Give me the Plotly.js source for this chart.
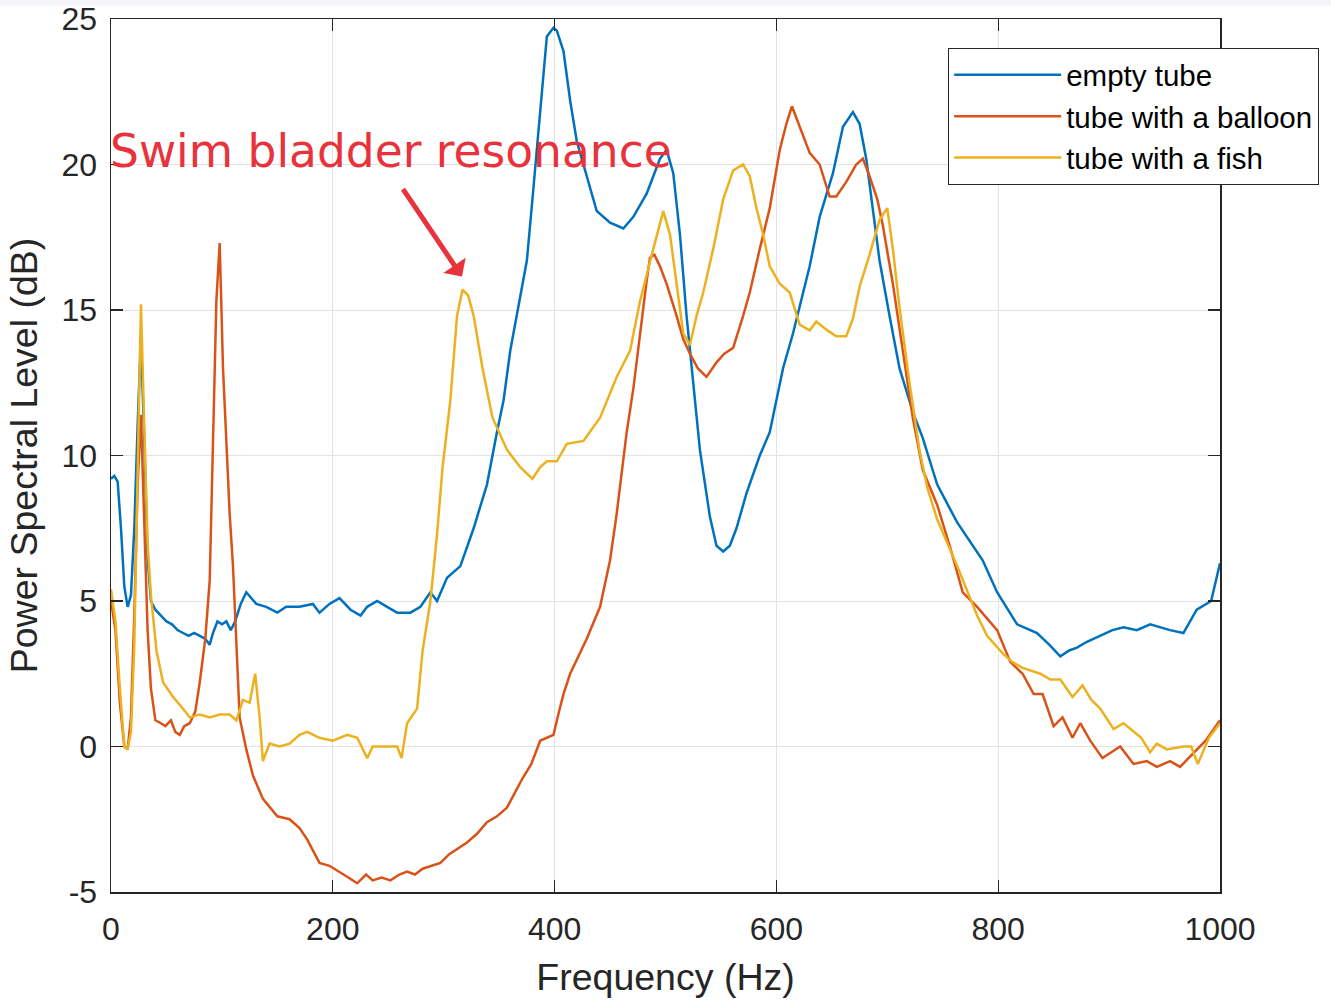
<!DOCTYPE html>
<html>
<head>
<meta charset="utf-8">
<script src="https://cdn.plot.ly/plotly-3.0.1.min.js"></script>
<style>
  html, body { margin: 0; padding: 0; background: #ffffff; }
  #chart { width: 1331px; height: 1001px; }
</style>
</head>
<body>
<div id="chart"></div>
<script>
// ---------- data ----------
const seriesNames = ["empty tube", "tube with a balloon", "tube with a fish"];

const emptyFreq = [0,3,6,9,12,15,18,21,24,27,30,33,36,40,45,50,55,60,65,70,75,80,85,89,92,96,100,104,108,112,117,122,131,140,150,158,170,182,188,197,206,216,225,231,240,249,258,270,279,288,294,303,315,327,339,348,354,360,375,380,384,390,393,399,402,408,414,420,429,438,450,462,471,483,495,501,507,513,519,525,531,540,546,552,558,564,573,585,594,606,615,630,639,651,660,669,675,681,687,693,702,711,723,732,745,763,786,799,817,835,846,856,864,871,880,892,903,913,925,937,946,955,967,979,992,1000];
const emptyLevel = [9.2,9.3,9.1,7.5,5.5,4.8,5.2,7.5,11.0,14.1,10.5,6.5,5.0,4.7,4.5,4.3,4.2,4.0,3.9,3.8,3.9,3.8,3.7,3.5,3.9,4.3,4.2,4.3,4.0,4.3,4.9,5.3,4.9,4.8,4.6,4.8,4.8,4.9,4.6,4.9,5.1,4.7,4.5,4.8,5.0,4.8,4.6,4.6,4.8,5.3,5.0,5.8,6.2,7.5,9.0,10.8,11.9,13.6,16.7,18.8,20.5,23.0,24.4,24.7,24.6,23.9,22.2,20.8,19.6,18.4,18.0,17.8,18.2,19.0,20.2,20.5,19.7,17.6,14.8,12.5,10.2,7.9,6.9,6.7,6.9,7.5,8.7,10.0,10.8,13.0,14.2,16.5,18.2,19.7,21.3,21.8,21.4,20.2,18.5,16.7,14.8,13.0,11.5,10.6,9.0,7.7,6.4,5.3,4.2,3.9,3.5,3.1,3.3,3.4,3.6,3.8,4.0,4.1,4.0,4.2,4.1,4.0,3.9,4.7,5.0,6.3];

const balloonFreq = [0,4,8,12,15,18,21,24,27,30,33,36,40,45,49,54,58,62,66,71,76,80,85,89,92,95,98,101,104,107,110,113,116,122,128,137,150,161,170,177,188,197,206,214,222,230,236,244,252,260,267,274,281,290,297,305,313,321,330,339,348,357,364,371,379,387,393,399,404,408,414,420,429,441,450,456,465,471,477,483,486,490,495,501,510,516,522,529,537,546,553,561,570,576,585,594,603,609,614,621,630,639,648,654,663,672,678,684,691,696,705,714,723,732,745,757,768,781,790,799,811,822,832,840,850,858,867,874,883,894,902,910,922,934,943,955,964,974,987,1000];
const balloonLevel = [5.0,4.0,1.5,0.0,-0.1,1.0,4.5,9.0,11.4,8.0,4.0,2.0,0.9,0.8,0.7,0.9,0.5,0.4,0.7,0.8,1.2,2.2,3.7,5.7,10.8,15.3,17.3,13.0,10.5,8.0,6.2,3.3,1.0,-0.1,-1.0,-1.8,-2.4,-2.5,-2.8,-3.2,-4.0,-4.1,-4.3,-4.5,-4.7,-4.4,-4.6,-4.5,-4.6,-4.4,-4.3,-4.4,-4.2,-4.1,-4.0,-3.7,-3.5,-3.3,-3.0,-2.6,-2.4,-2.1,-1.6,-1.1,-0.6,0.2,0.3,0.4,1.2,1.8,2.5,3.0,3.7,4.8,6.4,8.0,10.8,12.3,14.2,16.0,16.8,16.9,16.5,15.9,14.8,14.0,13.5,13.0,12.7,13.2,13.5,13.7,14.8,15.6,17.1,18.5,20.5,21.4,22.0,21.3,20.4,20.0,18.9,18.9,19.4,20.0,20.2,19.6,18.8,17.9,15.9,13.6,11.3,9.5,8.3,6.8,5.3,4.8,4.4,4.0,2.9,2.5,1.8,1.8,0.7,1.0,0.3,0.8,0.2,-0.4,-0.2,0.0,-0.6,-0.5,-0.7,-0.5,-0.7,-0.3,0.2,0.9];

const fishFreq = [0,4,8,12,15,18,21,24,27,30,33,36,41,47,56,65,71,80,89,98,107,113,119,125,130,134,137,143,152,161,170,177,188,200,213,222,231,236,249,258,262,267,276,281,288,294,299,306,312,317,322,327,335,344,357,369,380,387,393,402,411,426,441,456,468,477,489,498,504,510,516,522,528,534,543,552,561,570,576,582,588,594,603,612,621,630,636,646,654,663,669,675,684,693,700,705,711,720,729,736,745,763,781,790,804,813,822,838,847,856,867,876,884,892,904,913,922,929,937,943,952,967,974,980,990,1000];
const fishLevel = [5.4,4.3,2.0,0.0,-0.1,0.5,3.5,10.0,15.2,11.0,7.0,5.2,3.3,2.2,1.7,1.3,1.0,1.1,1.0,1.1,1.1,0.9,1.6,1.5,2.5,1.0,-0.5,0.1,0.0,0.1,0.4,0.5,0.3,0.2,0.4,0.3,-0.4,0.0,0.0,0.0,-0.4,0.8,1.3,3.3,5.0,7.3,9.6,11.9,14.8,15.7,15.5,14.8,13.0,11.3,10.2,9.6,9.2,9.6,9.8,9.8,10.4,10.5,11.3,12.7,13.6,15.3,17.1,18.4,17.6,15.9,14.2,13.8,14.8,15.6,17.1,18.8,19.8,20.0,19.6,18.5,17.6,16.5,15.9,15.6,14.5,14.3,14.6,14.3,14.1,14.1,14.7,15.8,16.9,18.1,18.5,17.1,15.1,12.5,10.2,8.9,7.8,6.2,4.5,3.8,3.2,2.9,2.7,2.5,2.3,2.3,1.7,2.1,1.6,1.3,0.6,0.8,0.5,0.3,-0.2,0.1,-0.1,0.0,0.0,-0.6,0.3,0.8];

const xTickVals = [0, 200, 400, 600, 800, 1000];
const yTickVals = [-5, 0, 5, 10, 15, 20, 25];
const annotationText = "Swim bladder resonance";
const xTitle = "Frequency (Hz)";
const yTitle = "Power Spectral Level (dB)";

// ---------- styling ----------
const colors = ["#0072BD", "#D95319", "#EDB120"];
const axisColor = "#262626";
const gridColor = "#e3e3e3";
const fontFam = "'Liberation Sans', Arial, Helvetica, sans-serif";

const xs = [emptyFreq, balloonFreq, fishFreq];
const ys = [emptyLevel, balloonLevel, fishLevel];

const traces = seriesNames.map((name, i) => ({
  type: "scatter",
  mode: "lines",
  name: name,
  x: xs[i],
  y: ys[i],
  line: { color: colors[i], width: 2.5 },
  hoverinfo: "skip"
}));

const layout = {
  width: 1331,
  height: 1001,
  margin: { l: 111, r: 111, t: 19, b: 109, pad: 0 },
  paper_bgcolor: "#ffffff",
  plot_bgcolor: "#ffffff",
  font: { family: fontFam, color: axisColor, size: 31 },
  showlegend: true,
  legend: {
    x: 0.7547, y: 0.9668, xanchor: "left", yanchor: "top",
    bgcolor: "#ffffff",
    bordercolor: "#262626", borderwidth: 1.2,
    font: { family: fontFam, size: 29.5, color: "#000000" },
    itemwidth: 107,
    tracegroupgap: 0
  },
  xaxis: {
    range: [0, 1000],
    tickvals: xTickVals,
    ticktext: xTickVals.map(String),
    ticks: "inside", ticklen: 12, tickwidth: 1.2, tickcolor: axisColor,
    showline: true, linecolor: axisColor, linewidth: 1.5, mirror: "ticks",
    showgrid: true, gridcolor: gridColor, gridwidth: 1,
    zeroline: false,
    tickfont: { family: fontFam, size: 32, color: axisColor },
    ticklabelstandoff: 8,
    title: { text: xTitle, font: { family: fontFam, size: 37.5, color: axisColor }, standoff: 18 },
    automargin: false
  },
  yaxis: {
    range: [-5, 25],
    tickvals: yTickVals,
    ticktext: yTickVals.map(String),
    ticks: "inside", ticklen: 12, tickwidth: 1.2, tickcolor: axisColor,
    showline: true, linecolor: axisColor, linewidth: 1.5, mirror: "ticks",
    showgrid: true, gridcolor: gridColor, gridwidth: 1,
    zeroline: false,
    tickfont: { family: fontFam, size: 32, color: axisColor },
    ticklabelstandoff: 6,
    title: { text: yTitle, font: { family: fontFam, size: 37.5, color: axisColor }, standoff: 12 },
    automargin: false
  },
  shapes: [
    { type: "rect", xref: "paper", yref: "paper", x0: -0.11, x1: 1.11, y0: 1.0155, y1: 1.03,
      fillcolor: "#f4f6fa", line: { width: 0 }, layer: "below" }
  ],
  annotations: [
    {
      x: 0, y: 20.45, xref: "x", yref: "y", xanchor: "left", yanchor: "middle",
      xshift: -3,
      text: annotationText, showarrow: false,
      font: { family: "'DejaVu Sans', Verdana, sans-serif", size: 45.5, color: "#e8323c" }
    },
    {
      x: 316.5, y: 16.15, xref: "x", yref: "y",
      ax: -60, ay: -89, axref: "pixel", ayref: "pixel",
      text: "", showarrow: true,
      arrowhead: 1, arrowsize: 0.9, arrowwidth: 5, arrowcolor: "#e8323c"
    }
  ]
};

Plotly.newPlot("chart", traces, layout, { staticPlot: true, displayModeBar: false });
</script>
</body>
</html>
